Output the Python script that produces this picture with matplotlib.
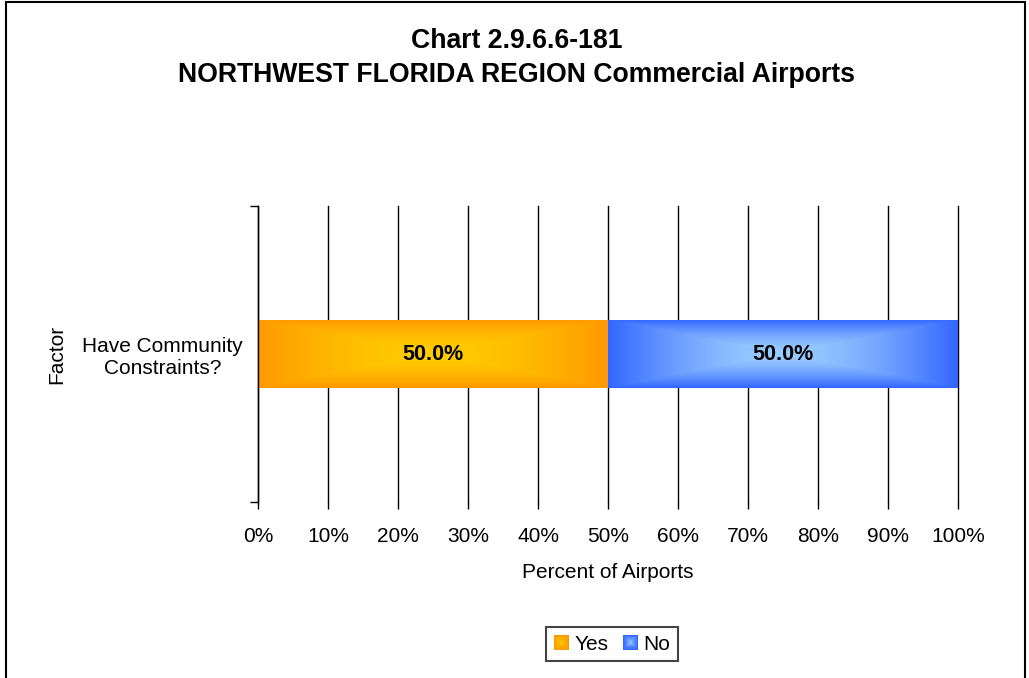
import numpy as np
import matplotlib
matplotlib.use("Agg")
import matplotlib.pyplot as plt
from matplotlib.patches import Rectangle, Patch
from matplotlib.colors import LinearSegmentedColormap, to_rgb
from matplotlib.legend_handler import HandlerBase

plt.rcParams['font.family'] = ['Liberation Sans', 'DejaVu Sans']

# Datos
categories = ['Have Community\nConstraints?']
series_names = ['Yes', 'No']
yes_vals = [50.0]
no_vals = [50.0]
x_ticks = [0, 10, 20, 30, 40, 50, 60, 70, 80, 90, 100]
x_labels = [f'{t}%' for t in x_ticks]

# colores (borde, centro) del degradado
grad_colors = {
    'Yes': ('#FF9900', '#FFCC00'),
    'No': ('#3366FF', '#99CCFF'),
}


def gradient_bar(ax, left, width, y, height, c_edge, c_center):
    cmap = LinearSegmentedColormap.from_list('g', [c_center, c_edge])
    nx, ny = 400, 80
    u = np.abs(np.linspace(-1, 1, nx))
    v = np.abs(np.linspace(-1, 1, ny))
    uu, vv = np.meshgrid(u, v)
    t = np.maximum(uu, vv) ** 1.6
    rect = Rectangle((left, y - height / 2), width, height,
                     facecolor='none', edgecolor='none', zorder=3)
    ax.add_patch(rect)
    im = ax.imshow(t, cmap=cmap, vmin=0, vmax=1, aspect='auto',
                   extent=(left, left + width, y - height / 2, y + height / 2),
                   interpolation='bilinear', zorder=2)
    im.set_clip_path(rect)


class GradHandler(HandlerBase):
    def create_artists(self, legend, orig_handle, xdescent, ydescent,
                       width, height, fontsize, trans):
        c_edge, c_center = grad_colors[orig_handle.get_label()]
        ce, cc = np.array(to_rgb(c_edge)), np.array(to_rgb(c_center))
        s = height * 1.0
        x0 = -xdescent + (width - s) / 2
        y0 = -ydescent + (height - s) / 2
        arts = []
        n = 6
        for i in range(n):
            f = i / n
            d = s * f / 2
            col = ce + (cc - ce) * f
            r = Rectangle((x0 + d, y0 + d), s - 2 * d, s - 2 * d,
                          facecolor=col, edgecolor='none', transform=trans)
            arts.append(r)
        return arts


fig = plt.figure(figsize=(10.29, 6.78), dpi=100)
ax = fig.add_axes([258 / 1029, 1 - 502 / 678, 700 / 1029, 296 / 678])

bar_h = 0.23
ypos = np.arange(len(categories))
lbl_font = ['Liberation Sans Narrow', 'Liberation Sans', 'DejaVu Sans']
for i, y in enumerate(ypos):
    gradient_bar(ax, 0, yes_vals[i], y, bar_h, *grad_colors['Yes'])
    gradient_bar(ax, yes_vals[i], no_vals[i], y, bar_h, *grad_colors['No'])
    ax.text(yes_vals[i] / 2, y, f'{yes_vals[i]:.1f}%', ha='center', va='center',
            fontsize=15.5, fontweight='bold', family=lbl_font, zorder=4)
    ax.text(yes_vals[i] + no_vals[i] / 2, y, f'{no_vals[i]:.1f}%', ha='center',
            va='center', fontsize=15.5, fontweight='bold', family=lbl_font, zorder=4)

ax.set_xlim(0, 100)
ax.set_ylim(-0.5, 0.5)
ax.set_xticks(x_ticks, labels=x_labels, fontsize=15)
ax.set_yticks(ypos, labels=categories, fontsize=15)
ax.set_yticks([-0.5, 0.5], minor=True)
for lab in ax.get_yticklabels():
    lab.set_multialignment('center')
ax.tick_params(axis='y', which='major', length=0, pad=11)
ax.tick_params(axis='y', which='minor', length=6, width=1)
ax.tick_params(axis='x', length=5, width=1, pad=13)
ax.grid(axis='x', color='black', linewidth=1, zorder=1)
for gl in ax.xaxis.get_gridlines():
    gl.set_clip_on(False)
ax.set_axisbelow(True)
for side in ['top', 'right', 'bottom']:
    ax.spines[side].set_visible(False)
ax.spines['left'].set_linewidth(1)

ax.set_xlabel('Percent of Airports', fontsize=15)
ax.xaxis.set_label_coords(0.5, -0.205)
fig.text(57 / 1029, 1 - 354 / 678, 'Factor', rotation=90, fontsize=15,
         ha='center', va='center')

fig.text(517 / 1029, 1 - 58 / 678,
         'Chart 2.9.6.6-181\nNORTHWEST FLORIDA REGION Commercial Airports',
         ha='center', va='center', fontsize=19.2, fontweight='bold', linespacing=1.45)

handles = [Patch(label=n) for n in series_names]
leg = fig.legend(handles=handles, loc='center', ncol=2, fontsize=15,
                 bbox_to_anchor=(612 / 1029, 1 - 644 / 678),
                 handler_map={Patch: GradHandler()}, fancybox=False,
                 edgecolor='#444444', framealpha=1, handlelength=0.75,
                 handleheight=0.75, handletextpad=0.25, columnspacing=0.7,
                 borderpad=0.35, borderaxespad=0)
leg.get_frame().set_linewidth(1.5)

fig.patches.append(Rectangle((6 / 1029, -0.02), 1019 / 1029, 1.02 - 1.5 / 678,
                             transform=fig.transFigure, fill=False,
                             edgecolor='black', linewidth=1.5))

fig.savefig('out.png', dpi=100, facecolor='white')
